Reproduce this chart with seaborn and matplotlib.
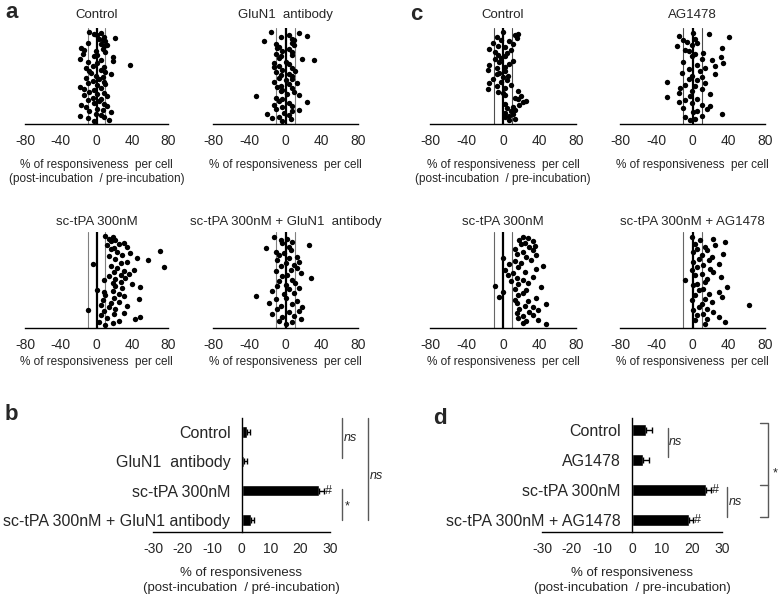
import matplotlib
matplotlib.use("Agg")
import matplotlib.pyplot as plt
import seaborn as sns

# per-cell responsiveness (%), listed cell by cell from top to bottom
a_control = [-8, 5, -3, 1, 8, 21, 3, 7, 10, -10, 5, 12, 8, -17, 7, -14, -1, 10,
             -15, 1, -3, 18, -19, 5, 19, -10, 1, 38, -4, 8, -12, 5, -8, 10, -6, 16,
             -1, 7, -12, 3, -4, 8, -10, 10, 1, -19, 5, -14, -3, -8, 8, 1, -14, 12,
             -4, 5, -10, 3, -3, 8, -17, 12, -12, 1, 7, -8, 16, -1, 5, -18, 8, -10, 14, -3]
a_glun1 = [-16, 15, 4, 24, -5, 7, 9, -24, 7, -11, 9, -7, -9, 4, -4, 7, -11, 7, -5,
           -7, 18, 31, 0, -13, 4, -7, -13, 7, -4, 11, -11, 4, -5, 7, -7, 7, 0, -13,
           13, 4, -5, -9, 7, -4, -5, 9, 2, 15, -33, -11, -4, -7, 24, 4, -13, 7, -4,
           -11, 15, 7, -2, -20, 4, -7, -15, 6, -4]
a_tpa = [10, 18, 14, 21, 16, 31, 25, 12, 34, 20, 16, 71, 23, 38, 29, 14, 45, 21,
         58, 34, 27, -4, 16, 75, 23, 42, 31, 20, 36, 27, 14, 32, 21, 8, 27, 18, 40,
         21, 49, 29, 1, 18, 8, 25, 10, 31, 20, 47, 7, 25, 16, 5, 34, 14, 21, -9, 8,
         31, 20, 5, 49, 12, 43, 25, 3, 18, 10]
a_tpa_glun1 = [-13, 2, -5, 7, -4, 26, 4, -22, 6, -11, -2, -7, 13, 4, -9, 15, 0, 9,
               -5, 13, 6, -11, 17, 2, -4, 28, 7, -7, 11, 0, -9, 15, 4, -15, 9, -2,
               -33, 0, -11, 13, -18, 7, -5, 18, -9, 15, 4, -15, 9, -4, 17, -7, 7, 0]
c_control = [0, 16, 13, -7, 15, -2, 7, -11, 11, -5, 2, -15, 9, -9, 4, -5, 2, -2,
             -9, 11, -4, 7, -15, 2, -7, -16, 2, -4, -7, 5, 0, -11, 4, -2, -15, 9,
             -7, 2, -16, 16, -5, 0, 2, 20, 13, 16, 25, 22, 2, 18, 11, 4, 13, 9, 2,
             11, 7, 2, 13, 7]
c_ag1478 = [0, 18, -15, 40, 3, -10, -6, 5, -1, -17, 32, -8, -4, 12, 3, -1, 31, 10,
            21, -10, 34, 5, 25, 14, -4, 8, -12, 25, -1, 10, -4, 5, -28, 14, -8, 3,
            -14, 10, -1, -15, 19, -3, -28, 5, -8, -15, -1, 10, 19, -10, 16, 5, 1,
            32, 10, -8, 3, -3]
c_tpa = [22, 27, 18, 33, 24, 20, 35, 29, 13, 33, 22, 15, 36, 25, 0, 31, 13, 20, 7,
         44, 16, 36, 2, 24, 11, 5, 33, 15, 22, 9, 27, 16, -9, 42, 13, 25, 0, 22,
         16, -4, 36, 13, 27, 15, 47, 24, 33, 18, 38, 29, 15, 33, 22, 16, 38, 25,
         22, 47]
c_tpa_ag = [-1, 23, 8, 36, 3, 25, 14, 5, 16, 1, 34, 10, 21, 7, 18, 1, 29, 12, 5,
            19, -1, 23, 10, 3, 31, 16, -8, 14, 5, 1, 38, 12, 7, 29, 18, 3, 32, 14,
            -1, 21, 10, 62, 7, 16, 1, 23, 12, 5, 29, 16, 3, 36, 14]

# mean responsiveness and SEM
b_cats = ['Control', 'GluN1  antibody', 'sc-tPA 300nM', 'sc-tPA 300nM + GluN1 antibody']
b_mean = [1.8, 1.0, 26.3, 3.2]
b_sem = [1.1, 0.8, 1.8, 1.0]
d_cats = ['Control', 'AG1478', 'sc-tPA 300nM', 'sc-tPA 300nM + AG1478']
d_mean = [4.7, 3.6, 24.7, 19.1]
d_sem = [1.8, 2.2, 1.6, 1.3]

sns.set_style('white')
plt.rcParams['font.family'] = ['Liberation Sans', 'DejaVu Sans']
plt.rcParams['axes.unicode_minus'] = False

W, H = 778, 600
fig = plt.figure(figsize=(W / 100, H / 100), dpi=100)


def px_axes(left, top, right, bottom):
    return fig.add_axes([left / W, 1 - bottom / H, (right - left) / W, (bottom - top) / H])


def cell_panel(box, values, title, two_lines, top_row, thin='0.5'):
    ax = px_axes(*box)
    ax.axvline(-10, color=thin, lw=0.8, zorder=1)
    ax.axvline(10, color=thin, lw=0.8, zorder=1)
    ax.axvline(0, color='black', lw=1.6, zorder=1)
    sns.scatterplot(x=values, y=list(range(len(values))), ax=ax, color='black',
                    s=15, linewidth=0, zorder=3)
    n = len(values)
    ax.set_ylim(n + 1.5, -3)
    ax.set_xlim(-80, 80)
    ax.set_xticks(range(-80, 81, 20))
    ax.set_xticklabels(['-80', '', '-40', '', '0', '', '40', '', '80'], fontsize=10)
    ax.set_yticks([])
    for s in ['left', 'top', 'right']:
        ax.spines[s].set_visible(False)
    ax.spines['bottom'].set_linewidth(1.0)
    ax.spines['bottom'].set_color('black')
    ax.tick_params(axis='x', direction='out', length=3, width=1, pad=4, color='black')
    label = '% of responsiveness  per cell'
    if two_lines:
        label += '\n(post-incubation  / pre-incubation)'
    ax.set_xlabel(label, fontsize=8.5, labelpad=8 if top_row else 3, linespacing=1.25)
    ax.set_title(title, fontsize=9.5, pad=7 if top_row else 5)
    return ax


cell_panel((25, 28, 168, 124), a_control, 'Control', True, True)
cell_panel((213, 28, 358, 124), a_glun1, 'GluN1  antibody', False, True)
cell_panel((25, 232, 168, 328), a_tpa, 'sc-tPA 300nM', False, False)
cell_panel((213, 232, 358, 328), a_tpa_glun1, 'sc-tPA 300nM + GluN1  antibody', False, False)
cell_panel((430, 28, 576, 124), c_control, 'Control', True, True, thin='0.3')
cell_panel((620, 28, 765, 124), c_ag1478, 'AG1478', False, True, thin='0.3')
cell_panel((430, 232, 576, 328), c_tpa, 'sc-tPA 300nM', False, False, thin='0.4')
cell_panel((620, 232, 765, 328), c_tpa_ag, 'sc-tPA 300nM + AG1478', False, False, thin='0.4')


def bar_panel(box, cats, means, sems, ylim, bar_w, xlabel):
    ax = px_axes(*box)
    sns.barplot(x=means, y=cats, orient='h', color='black', width=bar_w,
                errorbar=None, ax=ax, saturation=1)
    ax.errorbar(x=means, y=list(range(len(cats))), xerr=[[0] * len(sems), sems],
                fmt='none', ecolor='black', elinewidth=1, capsize=2, capthick=1)
    ax.set_xlim(-30, 30)
    ax.set_ylim(*ylim)
    ax.set_xticks(range(-30, 31, 10))
    ax.tick_params(axis='x', direction='out', length=3, width=1, pad=4, labelsize=10)
    ax.tick_params(axis='y', length=0, pad=8, labelsize=11.5)
    ax.spines['left'].set_position(('data', 0))
    ax.spines['right'].set_visible(False)
    ax.spines['top'].set_visible(False)
    for s in ['left', 'bottom']:
        ax.spines[s].set_color('black')
        ax.spines[s].set_linewidth(1.0)
    ax.set_ylabel('')
    ax.set_xlabel(xlabel, fontsize=9.5, labelpad=8, linespacing=1.3)
    return ax


def vline(ax, x, y0, y1, text=None, ty=None, tx=1.0, italic=True):
    ax.plot([x, x], [y0, y1], color='0.35', lw=1, clip_on=False)
    if text:
        ax.text(x + tx, ty if ty is not None else (y0 + y1) / 2, text, fontsize=9,
                style='italic' if italic else 'normal', va='center', ha='left')


axb = bar_panel((153, 418, 330, 532), b_cats, b_mean, b_sem, (3.41, -0.48), 0.38,
                '% of responsiveness\n(post-incubation  / pré-incubation)')
axb.text(b_mean[2] + b_sem[2] + 0.3, 2, '#', fontsize=9, va='center', ha='left')
vline(axb, 34.2, -0.48, 0.88, 'ns', ty=0.2, tx=0.4)
vline(axb, 34.2, 1.94, 3.0, '*', ty=2.55, tx=0.8, italic=False)
vline(axb, 43.0, -0.48, 3.0, 'ns', ty=1.5, tx=0.5)

axd = bar_panel((542, 418, 722, 532), d_cats, d_mean, d_sem, (3.4, -0.4), 0.42,
                '% of responsiveness\n(post-incubation  / pre-incubation)')
axd.text(d_mean[2] + d_sem[2] + 0.2, 2, '#', fontsize=9, va='center', ha='left')
axd.text(d_mean[3] + d_sem[3] + 0.2, 3, '#', fontsize=9, va='center', ha='left')
vline(axd, 12.0, -0.07, 0.9, 'ns', ty=0.4, tx=0.4)
vline(axd, 31.7, 1.9, 2.9, 'ns', ty=2.4, tx=0.4)
axd.plot([42.7, 45.3, 45.3, 42.7], [-0.23, -0.23, 2.9, 2.9], color='0.35', lw=1, clip_on=False)
axd.plot([42.7, 45.3], [1.83, 1.83], color='0.35', lw=1, clip_on=False)
axd.text(47.0, 1.45, '*', fontsize=9, va='center', ha='left')

for letter, x, y in [('a', 5, 12), ('c', 410, 14), ('b', 5, 415), ('d', 433, 418)]:
    fig.text(x / W, 1 - y / H, letter, fontsize=16, fontweight='bold', va='center', ha='left')

fig.savefig('out.png', dpi=100)
